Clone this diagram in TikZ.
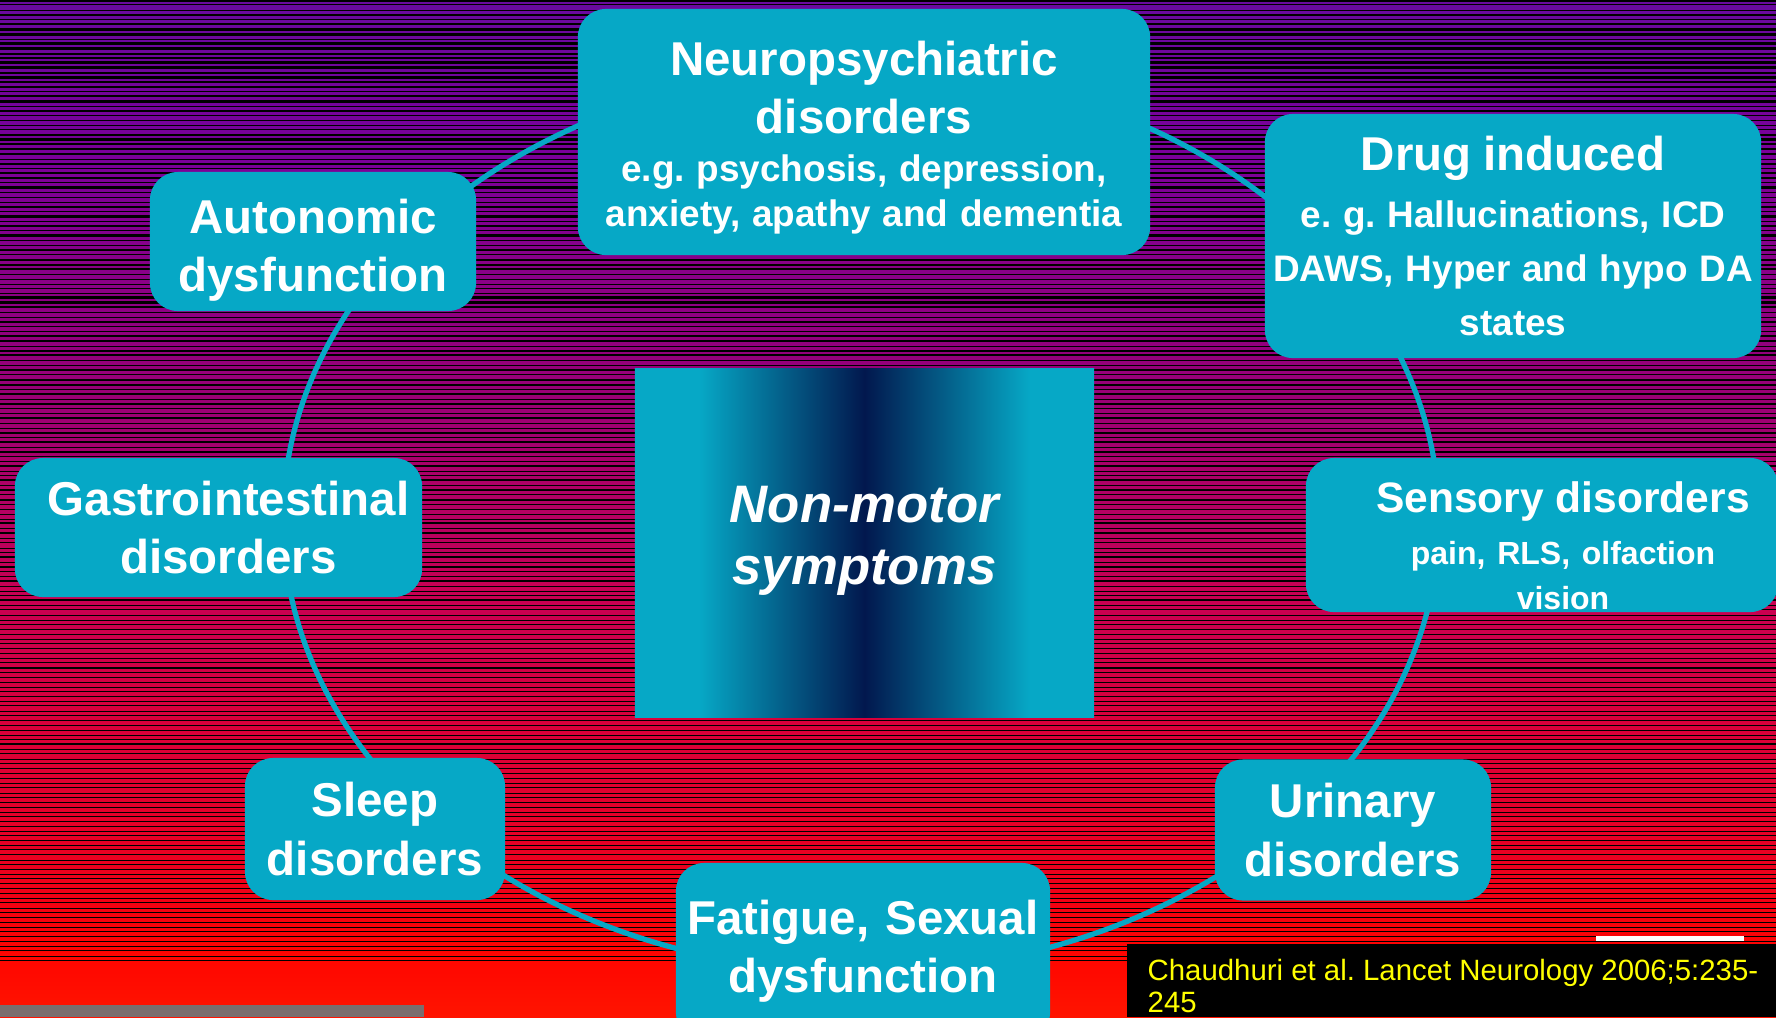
\documentclass[tikz,border=0pt]{standalone}
\usepackage{fontspec}
\setmainfont{Liberation Sans}
\usepackage{tikz}
\usetikzlibrary{positioning}
\definecolor{BoxCyan}{RGB}{6,168,198}
\definecolor{DeepNavy}{RGB}{2,24,78}
\definecolor{CiteYellow}{RGB}{255,255,0}
\definecolor{BarGrey}{RGB}{122,110,110}
% only 25bp--75bp of a shading lands on the path
\pgfdeclareverticalshading{stripebg}{100bp}{rgb(0bp)=(1,0.08,0); rgb(25bp)=(1,0.08,0); rgb(28bp)=(1,0.02,0); rgb(31bp)=(0.95,0,0.08); rgb(33.5bp)=(0.91,0,0.14); rgb(45.5bp)=(0.79,0,0.32); rgb(55.5bp)=(0.6,0,0.46); rgb(67.5bp)=(0.48,0,0.6); rgb(75bp)=(0.41,0.04,0.62); rgb(100bp)=(0.41,0.04,0.62)}
\pgfdeclarehorizontalshading{corefade}{100bp}{color(0bp)=(BoxCyan); color(32bp)=(BoxCyan); color(50bp)=(DeepNavy); color(68bp)=(BoxCyan); color(100bp)=(BoxCyan)}
\newcommand{\boxhead}{\fontsize{13.5}{16.5}\selectfont}
\newcommand{\boxnote}{\fontsize{10.5}{12.8}\selectfont}
\frenchspacing

\begin{document}
\begin{tikzpicture}[x=0.01cm,y=-0.01cm,
  box/.style={fill=BoxCyan,rounded corners=8pt,text=white,inner sep=0pt,align=center,font=\bfseries},
  bighead/.style={box,font=\bfseries\boxhead},
  boxsize/.style 2 args={minimum width=#1,text width=#1,minimum height=#2},
  cardtext/.style={text=white,align=center,inner sep=0pt,font=\bfseries},
  ring/.style={draw=BoxCyan,line width=1.5pt}]
\useasboundingbox (0,0) rectangle (1776,1017);
\clip (0,0) rectangle (1776,1017);
% striped backdrop
\shade[shading=stripebg] (0,0) rectangle (1776,1017);
\pgfmathsetseed{1776}
\foreach \k in {0,...,200}{
  \pgfmathsetmacro{\sy}{\k*4.8+rnd}
  \pgfmathsetmacro{\sw}{(0.15+0.9*rnd)*(1-\sy/1250)}
  \draw[black,line width=\sw pt] (0,\sy) -- (1776,\sy);
}
\fill[BarGrey] (0,1005) rectangle (424,1017);
\fill[black] (1127,944) rectangle (1776,1017);
\fill[white] (1596,936) rectangle (1744,941);
% ring behind the boxes
\coordinate (hub) at (861,520);
\draw[ring] (hub) ellipse [x radius=578,y radius=452];
% boxes
\node[box,boxsize={5.72cm}{2.46cm}] (neuro) at (864,132) {};
\node[cardtext,text width=5.72cm] (neurotext) at (864,138) {{\boxhead Neuropsychiatric\\disorders\par}\vspace{0.9pt}{\boxnote e.g. psychosis, depression,\\anxiety, apathy and dementia\par}};
\node[box,boxsize={4.96cm}{2.44cm}] (drug) at (1513,236) {{\boxhead Drug induced\par}\vspace{1pt}{\fontsize{10.5}{15.3}\selectfont e. g. Hallucinations, ICD\\DAWS, Hyper and hypo DA\\states\par}};
\node[box,boxsize={3.26cm}{1.39cm}] (auto) at (313,241.5) {};
\node[cardtext,font=\bfseries\boxhead] (autotext) at (313,250) {Autonomic\\dysfunction};
\node[bighead,boxsize={4.07cm}{1.39cm}] (gastro) at (218.5,527.5) {\hspace*{0.2cm}Gastrointestinal\\\hspace*{0.2cm}disorders};
\node[box,boxsize={4.72cm}{1.54cm}] (sens) at (1542,535) {};
\node[cardtext,text width=4.4cm] (senstext) at (1563,546) {{\fontsize{12.1}{14}\selectfont Sensory disorders\par}\vspace{2pt}{\fontsize{9.1}{12.8}\selectfont pain, RLS, olfaction\\vision\par}};
\node[bighead,boxsize={2.60cm}{1.42cm}] (sleep) at (375,829) {Sleep\\disorders};
\node[bighead,boxsize={2.76cm}{1.41cm}] (urin) at (1353,830) {Urinary\\disorders};
\node[bighead,boxsize={3.74cm}{1.77cm}] (fatigue) at (863,951.5) {Fatigue, Sexual\\dysfunction};
% centre panel
\node[shade,shading=corefade,minimum width=4.59cm,minimum height=3.48cm,inner sep=0pt] (core) at (864.5,543) {};
\node[cardtext,font=\fontsize{15}{17.6}\selectfont\bfseries\itshape] (coretext) at (864.5,541) {Non-motor\\symptoms};
% reference
\node[anchor=north west,inner sep=0pt,align=left,text=CiteYellow,font=\fontsize{8.35}{9.1}\selectfont] (cite) at (1147,958) {Chaudhuri et al. Lancet Neurology 2006;5:235-\\245};
\end{tikzpicture}
\end{document}
